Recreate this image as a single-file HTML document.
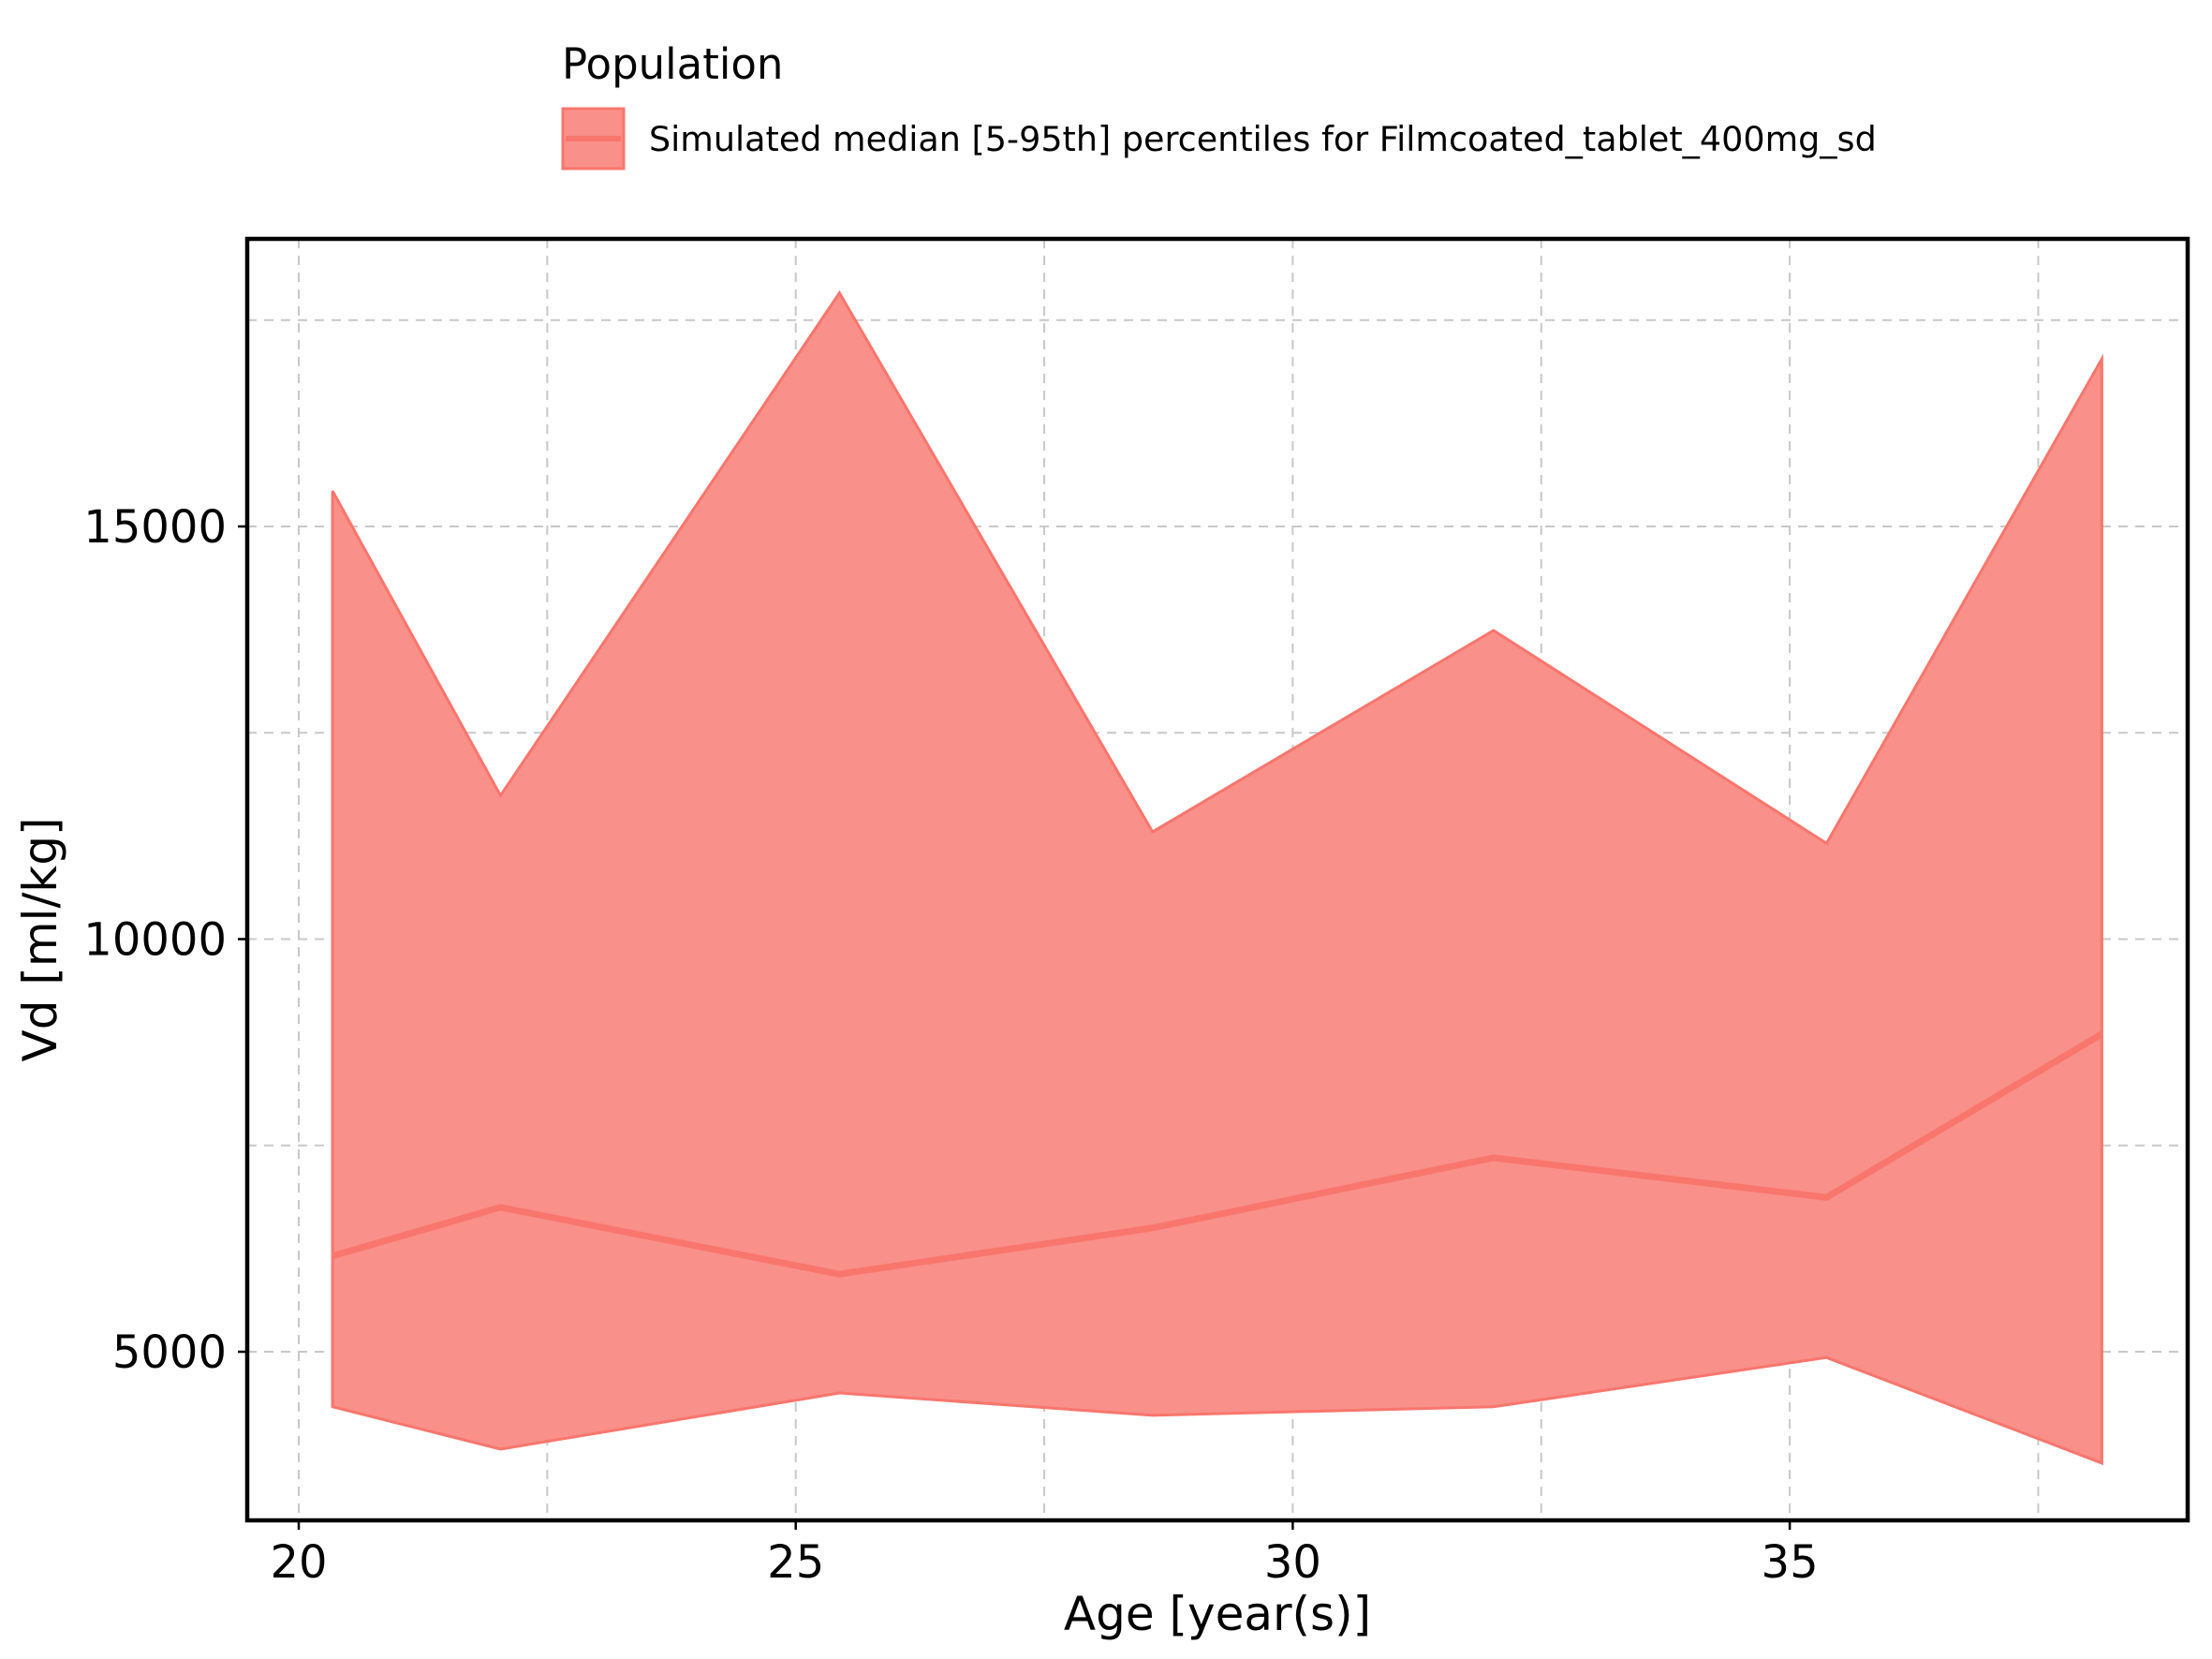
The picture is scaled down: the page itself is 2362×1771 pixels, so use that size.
<!DOCTYPE html>
<html><head><meta charset="utf-8"><style>
html,body{margin:0;padding:0;background:#fff}
svg{display:block;font-family:"DejaVu Sans","Liberation Sans",sans-serif}
</style></head><body>
<svg id="chart" width="2362" height="1771" viewBox="0 0 2362 1771">
<defs><clipPath id="clip"><rect x="264" y="255" width="2072" height="1368"/></clipPath></defs>
<g id="grid"></g>
<g id="plot" clip-path="url(#clip)"></g>
<rect x="264" y="255" width="2072" height="1368" fill="none" stroke="#000" stroke-width="4.5"/>
<g id="ticks"></g>
<text x="1300" y="1740" font-size="50" text-anchor="middle">Age [year(s)]</text>
<text transform="translate(60,1003) rotate(-90)" font-size="50" text-anchor="middle">Vd [ml/kg]</text>
<g>
<text x="600" y="84" font-size="45">Population</text>
<rect x="601" y="116" width="65" height="64" fill="#f99089" stroke="#F8766D" stroke-width="3"/>
<line x1="604" y1="148" x2="663" y2="148" stroke="#F8766D" stroke-width="6"/>
<text x="693" y="161" font-size="36.5">Simulated median [5-95th] percentiles for Filmcoated_tablet_400mg_sd</text>
</g>
</svg>
<script>
const ages = [20.34, 22.03, 25.44, 28.59, 32.02, 35.37, 38.14];
const upper = [15430, 11740, 17830, 11300, 13740, 11160, 17030];
const lower = [4333, 3820, 4500, 4230, 4333, 4930, 3650];
const median = [6160, 6750, 5940, 6500, 7350, 6870, 8850];
const xTicks = [20, 25, 30, 35];
const yTicks = [5000, 10000, 15000];
const xGrid = [20, 22.5, 25, 27.5, 30, 32.5, 35, 37.5];
const yGrid = [5000, 7500, 10000, 12500, 15000, 17500];

const X = v => 319 + (v - 20) * 106.14;
const Y = v => 1443 - (v - 5000) * 0.0881;
const NS = 'http://www.w3.org/2000/svg';
function mk(tag, attrs, parent) {
  const e = document.createElementNS(NS, tag);
  for (const k in attrs) e.setAttribute(k, attrs[k]);
  parent.appendChild(e);
  return e;
}
const grid = document.getElementById('grid');
const plot = document.getElementById('plot');
const ticks = document.getElementById('ticks');
xGrid.forEach(v => {
  const l = mk('line', {x1: X(v), x2: X(v), y1: 255, y2: 1623, stroke: '#c8c8c8', 'stroke-width': 2, 'stroke-dasharray': '10,8'}, grid);
  
  
});
yGrid.forEach(v => {
  const l = mk('line', {x1: 264, x2: 2336, y1: Y(v), y2: Y(v), stroke: '#c8c8c8', 'stroke-width': 2, 'stroke-dasharray': '10,8'}, grid);
  
  
});
let d = ages.map((a, i) => (i ? 'L' : 'M') + X(a) + ',' + Y(upper[i])).join(' ');
for (let i = ages.length - 1; i >= 0; i--) d += ' L' + X(ages[i]) + ',' + Y(lower[i]);
d += ' Z';
const band = mk('path', {d: d, fill: '#f99089', stroke: '#F8766D', 'stroke-width': 3}, plot);


const med = mk('polyline', {points: ages.map((a, i) => X(a) + ',' + Y(median[i])).join(' '), fill: 'none', stroke: '#F8766D', 'stroke-width': 7}, plot);


xTicks.forEach(v => {
  const t = mk('line', {x1: X(v), x2: X(v), y1: 1623, y2: 1633, stroke: '#000', 'stroke-width': 2.5}, ticks);
  
  
  const s = mk('text', {x: X(v), y: 1684, 'font-size': 48, 'text-anchor': 'middle'}, ticks);
  s.textContent = v;
  
  
});
yTicks.forEach(v => {
  const t = mk('line', {x1: 254, x2: 264, y1: Y(v), y2: Y(v), stroke: '#000', 'stroke-width': 2.5}, ticks);
  
  
  const s = mk('text', {x: 242, y: Y(v) + 17, 'font-size': 48, 'text-anchor': 'end'}, ticks);
  s.textContent = v;
  
  
});
</script>
</body></html>
